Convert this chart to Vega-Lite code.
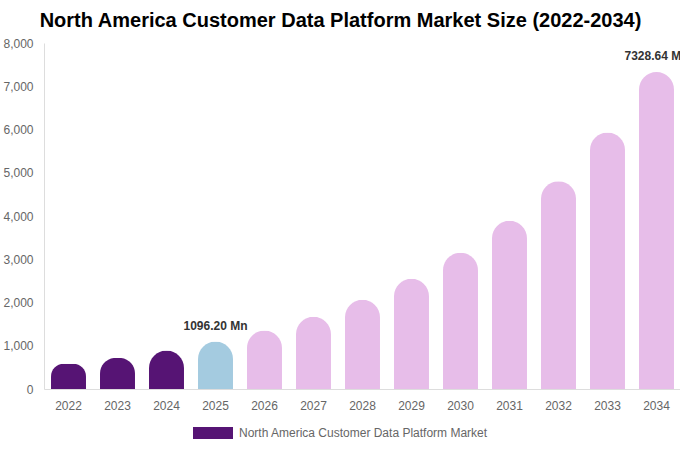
{
  "$schema": "https://vega.github.io/schema/vega-lite/v6.json",
  "autosize": "none",
  "padding": {"left": 44, "top": 43, "right": 0, "bottom": 61},
  "width": 637,
  "height": 346,
  "background": "white",
  "title": {
    "text": "North America Customer Data Platform Market Size (2022-2034)",
    "fontSize": 20,
    "fontWeight": "bold",
    "font": "Liberation Sans",
    "color": "#000000",
    "anchor": "middle",
    "dx": -22,
    "offset": 6
  },
  "config": {
    "view": {"stroke": null},
    "font": "Liberation Sans"
  },
  "data": {
    "values": [
      {"year": "2022", "value": 582, "phase": "Historical", "label": ""},
      {"year": "2023", "value": 719, "phase": "Historical", "label": ""},
      {"year": "2024", "value": 888, "phase": "Historical", "label": ""},
      {"year": "2025", "value": 1096.20, "phase": "Base", "label": "1096.20 Mn"},
      {"year": "2026", "value": 1354, "phase": "Forecast", "label": ""},
      {"year": "2027", "value": 1672, "phase": "Forecast", "label": ""},
      {"year": "2028", "value": 2065, "phase": "Forecast", "label": ""},
      {"year": "2029", "value": 2550, "phase": "Forecast", "label": ""},
      {"year": "2030", "value": 3149, "phase": "Forecast", "label": ""},
      {"year": "2031", "value": 3889, "phase": "Forecast", "label": ""},
      {"year": "2032", "value": 4803, "phase": "Forecast", "label": ""},
      {"year": "2033", "value": 5932, "phase": "Forecast", "label": ""},
      {"year": "2034", "value": 7328.64, "phase": "Forecast", "label": "7328.64 Mn"}
    ]
  },
  "encoding": {
    "x": {
      "field": "year",
      "type": "ordinal",
      "scale": {"paddingInner": 0.286, "paddingOuter": 0.143},
      "axis": {
        "title": null,
        "labelAngle": 0,
        "labelColor": "#666666",
        "labelFontSize": 12,
        "labelPadding": 11,
        "ticks": false,
        "domainColor": "#dddddd",
        "grid": false
      }
    },
    "y": {
      "field": "value",
      "type": "quantitative",
      "scale": {"domain": [0, 8000]},
      "axis": {
        "title": null,
        "values": [0, 1000, 2000, 3000, 4000, 5000, 6000, 7000, 8000],
        "format": ",d",
        "labelColor": "#666666",
        "labelFontSize": 12,
        "labelPadding": 11,
        "ticks": false,
        "grid": false,
        "domainColor": "#dddddd"
      }
    }
  },
  "layer": [
    {
      "mark": {"type": "bar", "cornerRadiusTopLeft": 17.5, "cornerRadiusTopRight": 17.5},
      "encoding": {
        "color": {
          "field": "phase",
          "type": "nominal",
          "scale": {
            "domain": ["Historical", "Base", "Forecast"],
            "range": ["#561474", "#a4cbe0", "#e7bde9"]
          },
          "legend": {
            "orient": "none",
            "legendX": 149,
            "legendY": 370,
            "title": null,
            "values": ["Historical"],
            "labelExpr": "'North America Customer Data Platform Market'",
            "labelLimit": 400,
            "symbolType": "M-1,-0.3H1V0.3H-1Z",
            "symbolSize": 1600,
            "symbolStrokeWidth": 0,
            "symbolOpacity": 1,
            "labelColor": "#666666",
            "labelFontSize": 12,
            "labelOffset": 6
          }
        }
      }
    },
    {
      "mark": {
        "type": "text",
        "dy": -12,
        "baseline": "alphabetic",
        "fontSize": 12,
        "fontWeight": "bold",
        "color": "#333333"
      },
      "encoding": {
        "text": {"field": "label"}
      }
    }
  ]
}
